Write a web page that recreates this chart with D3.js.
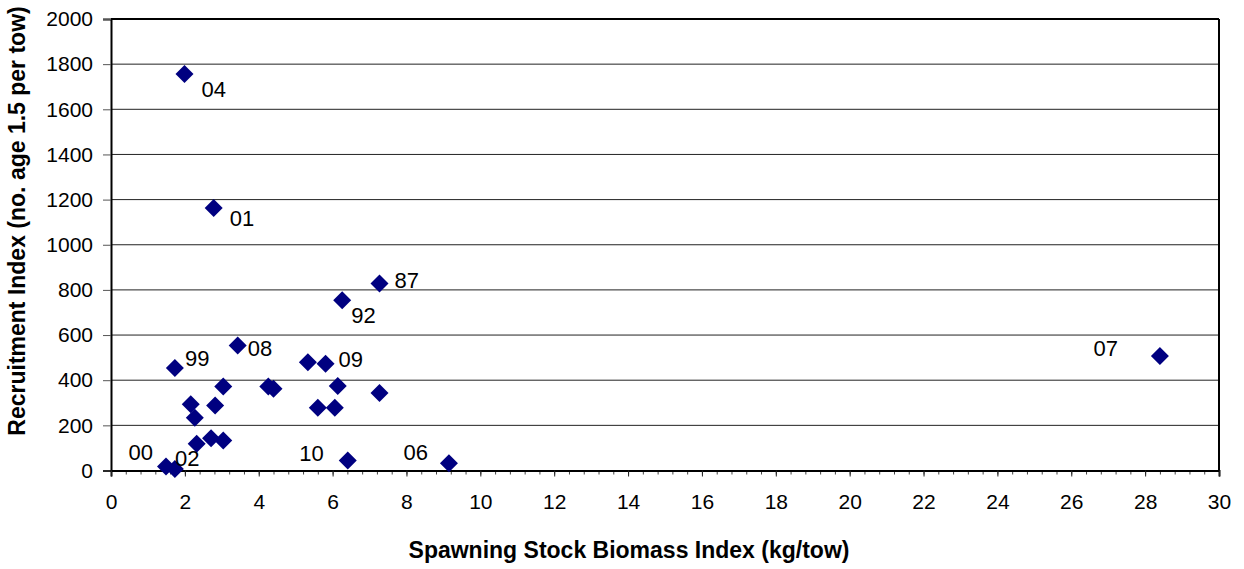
<!DOCTYPE html>
<html>
<head>
<meta charset="utf-8">
<script src="https://cdn.jsdelivr.net/npm/d3@7"></script>
<style>
  html, body { margin: 0; padding: 0; background: #fff; }
  svg { display: block; font-family: "Liberation Sans", Arial, sans-serif; }
</style>
</head>
<body>
<svg id="chart" width="1244" height="569"></svg>
<script>
// Spawning stock biomass index (kg/tow) vs recruitment index, one point per year class
const ssb = [1.99, 2.78, 7.27, 6.26, 1.73, 3.43, 5.81, 5.33, 6.14, 7.27, 5.60, 6.06, 4.26,
             4.40, 3.04, 2.16, 2.82, 2.27, 2.32, 2.71, 3.04, 1.49, 1.73, 6.41, 9.15, 28.40];
const recruits = [1756, 1163, 828, 754, 454, 554, 473, 480, 374, 343, 278, 278, 372,
                  362, 372, 293, 288, 234, 118, 143, 133, 18, 7, 44, 32, 507];
const yearLabels = ["04", "01", "87", "92", "99", "08", "09", "", "", "", "", "", "",
                    "", "", "", "", "", "", "", "", "00", "02", "10", "06", "07"];

const xTicks = d3.range(0, 31, 2);
const yTicks = d3.range(0, 2001, 200);

// label placement relative to its marker: [dx, dy, anchor]
const labelOffset = {
  "04": [17, 23, "start"], "01": [16, 18, "start"], "87": [15, 4, "start"],
  "92": [9, 23, "start"],  "99": [10, -2, "start"], "08": [10, 11, "start"],
  "09": [13, 3, "start"],  "07": [-42, 0, "end"],   "00": [-13, -6, "end"],
  "02": [0, -3, "start"],  "10": [-24, 0, "end"],   "06": [-21, -3, "end"]
};

const svg = d3.select("#chart");
const plotLeft = 111, plotRight = 1219, plotTop = 19, plotBottom = 470.5;

const x = d3.scaleLinear().domain([0, 30]).range([plotLeft, plotRight]);
const y = d3.scaleLinear().domain([0, 2000]).range([plotBottom, plotTop]);

// horizontal gridlines
svg.append("g")
  .selectAll("line")
  .data(yTicks.filter(v => v > 0 && v < 2000))
  .join("line")
  .attr("x1", plotLeft).attr("x2", plotRight)
  .attr("y1", d => y(d)).attr("y2", d => y(d))
  .attr("stroke", "#222").attr("stroke-width", 1);

// top and right borders
svg.append("line").attr("x1", plotLeft).attr("x2", plotRight).attr("y1", plotTop).attr("y2", plotTop)
  .attr("stroke", "#000").attr("stroke-width", 2);
svg.append("line").attr("x1", plotRight).attr("x2", plotRight).attr("y1", plotTop).attr("y2", plotBottom)
  .attr("stroke", "#000").attr("stroke-width", 2);

// y axis
const yAxis = svg.append("g")
  .attr("transform", `translate(${plotLeft},0)`)
  .call(d3.axisLeft(y).tickValues(yTicks).tickSize(8).tickPadding(10).tickFormat(d3.format("d")));
yAxis.select(".domain").attr("stroke", "#000").attr("stroke-width", 2);
yAxis.selectAll(".tick line").attr("stroke", "#555");
yAxis.selectAll(".tick text")
  .attr("font-size", 21).attr("fill", "#000")
  .attr("font-family", "'Liberation Sans', Arial, sans-serif");

// x axis: minor ticks every 0.4, major ticks with labels every 2
const xMinor = svg.append("g")
  .attr("transform", `translate(0,${plotBottom})`)
  .call(d3.axisBottom(x).tickValues(d3.range(0, 30.01, 0.4)).tickSize(4).tickFormat(""));
xMinor.select(".domain").remove();
xMinor.selectAll(".tick line").attr("stroke", "#444");

const xAxis = svg.append("g")
  .attr("transform", `translate(0,${plotBottom})`)
  .call(d3.axisBottom(x).tickValues(xTicks).tickSize(6).tickPadding(18).tickFormat(d3.format("d")));
xAxis.select(".domain").attr("stroke", "#000").attr("stroke-width", 2);
xAxis.selectAll(".tick line").attr("stroke", "#222");
xAxis.selectAll(".tick text")
  .attr("font-size", 21).attr("fill", "#000")
  .attr("font-family", "'Liberation Sans', Arial, sans-serif");

// axis titles
svg.append("text")
  .attr("x", 629).attr("y", 558)
  .attr("text-anchor", "middle")
  .attr("font-size", 23).attr("font-weight", "bold")
  .text("Spawning Stock Biomass Index (kg/tow)");

svg.append("text")
  .attr("transform", "translate(25,221) rotate(-90)")
  .attr("text-anchor", "middle")
  .attr("font-size", 23).attr("font-weight", "bold")
  .text("Recruitment Index (no. age 1.5 per tow)");

// data points
const points = ssb.map((v, i) => ({ x: v, y: recruits[i], label: yearLabels[i] }));

svg.append("g")
  .selectAll("path")
  .data(points)
  .join("path")
  .attr("transform", d => `translate(${x(d.x)},${y(d.y)})`)
  .attr("d", "M0,-9L9,0L0,9L-9,0Z")
  .attr("fill", "#000080");

// year-class labels
svg.append("g")
  .selectAll("text")
  .data(points.filter(d => d.label))
  .join("text")
  .attr("x", d => x(d.x) + labelOffset[d.label][0])
  .attr("y", d => y(d.y) + labelOffset[d.label][1])
  .attr("text-anchor", d => labelOffset[d.label][2])
  .attr("font-size", 22)
  .attr("fill", "#000")
  .text(d => d.label);
</script>
</body>
</html>
